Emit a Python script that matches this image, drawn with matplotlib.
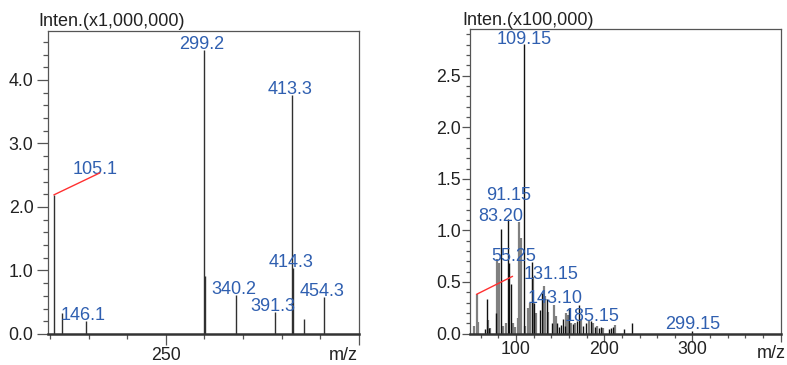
"""Two mass spectra side by side, Shimadzu style stick plots."""
import matplotlib

matplotlib.use("Agg")
import matplotlib.pyplot as plt
from matplotlib.ticker import FixedLocator, MultipleLocator, FormatStrFormatter

plt.rcParams["font.family"] = ["Liberation Sans", "DejaVu Sans"]

DPI = 100

# --- left spectrum, intensity in units of 1,000,000 ---
left_mz = [105.1, 115.1, 146.1, 299.2, 300.2, 340.2, 391.3, 413.3, 414.3, 429.4, 454.3]
left_int = [2.19, 0.33, 0.20, 4.47, 0.92, 0.61, 0.35, 3.77, 1.04, 0.23, 0.59]
left_labels = [105.1, 146.1, 299.2, 340.2, 391.3, 413.3, 414.3, 454.3]
left_label_text = ["105.1", "146.1", "299.2", "340.2", "391.3", "413.3", "414.3", "454.3"]

# --- right spectrum, intensity in units of 100,000 ---
right_black_mz = [
    64.9, 66.8, 69.2, 77.0, 83.2, 91.15, 92.4, 94.7, 109.15, 118.1, 120.8,
    127.2, 129.0, 134.8, 141.2, 146.9, 148.8, 150.4, 153.7, 156.0, 160.5,
    164.2, 168.8, 171.0, 175.6, 179.0, 185.15, 189.0, 193.7, 196.5, 205.1,
    207.1, 210.1, 222.4, 231.1, 299.15,
]
right_black_int = [
    0.04, 0.33, 0.05, 0.20, 1.01, 1.11, 0.68, 0.48, 2.81, 0.69, 0.30,
    0.23, 0.39, 0.33, 0.10, 0.10, 0.06, 0.08, 0.14, 0.07, 0.25,
    0.09, 0.12, 0.28, 0.07, 0.10, 0.12, 0.06, 0.05, 0.06, 0.04,
    0.05, 0.06, 0.04, 0.10, 0.02,
]
right_gray_mz = [
    52.4, 55.25, 56.6, 68.6, 70.5, 78.8, 80.7, 85.6, 88.7, 97.0, 98.9,
    102.6, 103.8, 105.7, 110.3, 114.0, 115.9, 119.6, 122.7, 131.15, 132.9,
    136.7, 143.1, 145.0, 156.7, 158.6, 162.4, 166.9, 173.3, 182.4, 187.7,
    191.5, 198.0, 211.9,
]
right_gray_int = [
    0.07, 0.38, 0.11, 0.13, 0.05, 0.72, 0.68, 0.07, 0.10, 0.10, 0.06,
    0.15, 1.08, 0.93, 0.07, 0.25, 0.30, 0.55, 0.20, 0.46, 0.36,
    0.21, 0.28, 0.17, 0.20, 0.18, 0.10, 0.10, 0.14, 0.12, 0.10,
    0.07, 0.05, 0.08,
]
right_labels = [55.25, 83.2, 91.15, 109.15, 131.15, 143.1, 185.15, 299.15]
right_label_text = ["55.25", "83.20", "91.15", "109.15", "131.15", "143.10", "185.15", "299.15"]

# label placement relative to the peak top, in pixels (dx, dy)
LEFT_OFFSETS = {105.1: (41, 21)}
LEFT_LEADERS = {105.1: (46, 22)}
RIGHT_OFFSETS = {
    55.25: (37, 33),
    83.2: (0, 8),
    91.15: (0, 19),
    109.15: (0, 0),
    131.15: (8, 7),
    143.1: (1, 2),
    185.15: (1, 0),
    299.15: (1, 2),
}
RIGHT_LEADERS = {55.25: (36, 18)}

BLUE = "#2f5fb0"
TEXT = "#222222"
FRAME = "#555555"
LABEL_SIZE = 13
TICK_SIZE = 12.8


def px(value):
    """Pixels to points."""
    return value * 72.0 / DPI


def style_axes(ax, major_len, minor_len, ypad, xpad):
    for side in ("top", "right", "left"):
        ax.spines[side].set_color(FRAME)
        ax.spines[side].set_linewidth(0.9)
    ax.spines["bottom"].set_color("#333333")
    ax.spines["bottom"].set_linewidth(1.8)
    ax.tick_params(which="both", direction="out", colors=FRAME, labelcolor=TEXT,
                   labelsize=TICK_SIZE, top=False, right=False)
    ax.tick_params(which="major", length=px(major_len), width=0.9)
    ax.tick_params(which="minor", length=px(minor_len), width=0.9)
    ax.tick_params(axis="y", pad=px(ypad))
    ax.tick_params(axis="x", pad=px(xpad))


def draw_labels(ax, mz_list, int_lookup, texts, offsets, leaders, default):
    for mz, text in zip(mz_list, texts):
        top = int_lookup[mz]
        dx, dy = offsets.get(mz, default)
        ax.annotate(text, xy=(mz, top), xytext=(px(dx), px(dy)),
                    textcoords="offset points", ha="center", va="baseline",
                    fontsize=LABEL_SIZE, color=BLUE, annotation_clip=False)
        if mz in leaders:
            lx, ly = leaders[mz]
            ax.annotate("", xy=(mz, top), xytext=(px(lx), px(ly)),
                        textcoords="offset points",
                        arrowprops=dict(arrowstyle="-", color="#ff3030", lw=1.0,
                                        shrinkA=0, shrinkB=0))


def corner_texts(ax, title, title_dx, title_dy, mz_dx, mz_dy):
    ax.annotate(title, xy=(0, 1), xycoords="axes fraction",
                xytext=(px(title_dx), px(title_dy)), textcoords="offset points",
                ha="left", va="baseline", fontsize=LABEL_SIZE, color=TEXT)
    ax.annotate("m/z", xy=(1, 0), xycoords="axes fraction",
                xytext=(px(mz_dx), px(mz_dy)), textcoords="offset points",
                ha="right", va="baseline", fontsize=LABEL_SIZE, color=TEXT,
                annotation_clip=False)


fig = plt.figure(figsize=(787 / DPI, 365 / DPI), dpi=DPI)
fig.patch.set_facecolor("white")

# left panel
ax1 = fig.add_axes([48 / 787, 1 - 334 / 365, 311 / 787, 303 / 365])
ax1.vlines(left_mz, 0, left_int, colors="#303030", linewidth=1.0)
ax1.set_xlim(97.5, 500)
ax1.set_ylim(0, 4.77)
ax1.xaxis.set_major_locator(FixedLocator([250, 500]))
ax1.set_xticklabels(["250", ""])
ax1.xaxis.set_minor_locator(MultipleLocator(50))
ax1.yaxis.set_major_locator(MultipleLocator(1.0))
ax1.yaxis.set_minor_locator(MultipleLocator(0.2))
ax1.yaxis.set_major_formatter(FormatStrFormatter("%.1f"))
style_axes(ax1, 11, 5, 3.5, 2)
left_lookup = dict(zip(left_mz, left_int))
draw_labels(ax1, left_labels, left_lookup, left_label_text,
            LEFT_OFFSETS, LEFT_LEADERS, (-2, 1))
corner_texts(ax1, "Inten.(x1,000,000)", -10, 5.5, -1, -26)

# right panel
ax2 = fig.add_axes([470 / 787, 1 - 333.5 / 365, 310.7 / 787, 304.2 / 365])
ax2.vlines(right_gray_mz, 0, right_gray_int, colors="#808080", linewidth=1.6)
ax2.vlines(right_black_mz, 0, right_black_int, colors="#111111", linewidth=1.0)
ax2.set_xlim(47.8, 400)
ax2.set_ylim(0, 2.95)
ax2.xaxis.set_major_locator(FixedLocator([100, 200, 300, 400]))
ax2.set_xticklabels(["100", "200", "300", ""])
ax2.xaxis.set_minor_locator(MultipleLocator(20))
ax2.yaxis.set_major_locator(MultipleLocator(0.5))
ax2.yaxis.set_minor_locator(MultipleLocator(0.1))
ax2.yaxis.set_major_formatter(FormatStrFormatter("%.1f"))
style_axes(ax2, 8, 4, 1, 0)
right_lookup = dict(zip(right_black_mz, right_black_int))
right_lookup.update(zip(right_gray_mz, right_gray_int))
draw_labels(ax2, right_labels, right_lookup, right_label_text,
            RIGHT_OFFSETS, RIGHT_LEADERS, (0, 1))
corner_texts(ax2, "Inten.(x100,000)", -8, 4.5, 5, -25)

fig.savefig("out.png", dpi=DPI, facecolor="white")
plt.close(fig)
